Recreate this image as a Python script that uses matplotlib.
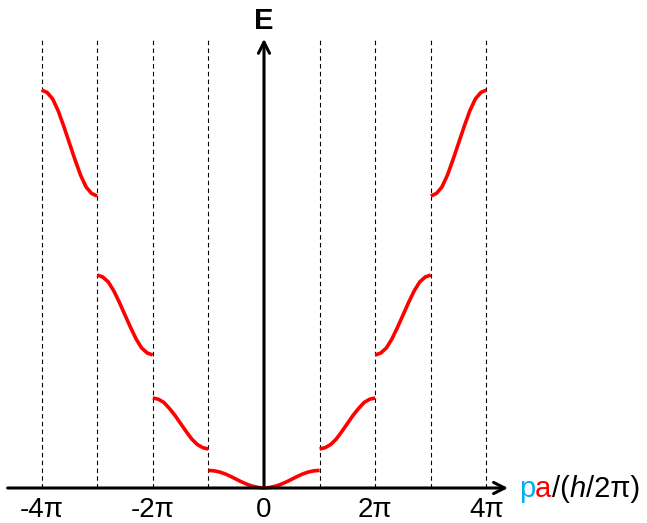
import matplotlib
matplotlib.use('Agg')
import matplotlib.pyplot as plt

plt.rcParams['font.family'] = ['Liberation Sans', 'DejaVu Sans']

# k in units of pi, E in arbitrary units
band_k = [[0.0, 0.1, 0.2, 0.3, 0.4, 0.5, 0.6, 0.7, 0.8, 0.9, 1.0],
          [1.0, 1.1, 1.2, 1.3, 1.4, 1.5, 1.6, 1.7, 1.8, 1.9, 2.0],
          [2.0, 2.1, 2.2, 2.3, 2.4, 2.5, 2.6, 2.7, 2.8, 2.9, 3.0],
          [3.0, 3.1, 3.2, 3.3, 3.4, 3.5, 3.6, 3.7, 3.8, 3.9, 4.0]]
band_E = [[0, 0.5, 1.7, 3.6, 6.0, 8.8, 11.6, 14.1, 16.0, 17.2, 17.6],
          [39, 40.3, 43.5, 49, 56.5, 64.5, 72.5, 79.5, 85.5, 88.8, 90],
          [133, 135, 140, 149, 160.5, 173, 185.5, 197, 206, 211, 213],
          [292, 294.5, 301, 313, 328.5, 345, 361.5, 377, 389, 395.5, 398]]
zone_edges = [-4, -3, -2, -1, 1, 2, 3, 4]
tick_pos = [-4, -2, 0, 2, 4]
tick_labels = ['-4π', '-2π', '0', '2π', '4π']

fig = plt.figure(figsize=(6.47, 5.23), dpi=100)
ax = fig.add_axes([0, 0, 1, 1])
ax.set_xlim(-4.748, 6.888)
ax.set_ylim(-35, 488)
ax.axis('off')

# zone boundaries
for xe in zone_edges:
    ax.plot([xe, xe], [0, 450], color='black', lw=0.8, ls=(0, (4, 3)))

# axes with arrows
ax.annotate('', xy=(4.44, 0), xytext=(-4.66, 0),
            arrowprops=dict(arrowstyle='->', lw=2.2, color='black', mutation_scale=20))
ax.annotate('', xy=(0, 452), xytext=(0, 0),
            arrowprops=dict(arrowstyle='->', lw=2.2, color='black', mutation_scale=20))

# bands, mirrored to negative k
for ks, es in zip(band_k, band_E):
    ax.plot(ks, es, color='red', lw=2.6, solid_capstyle='butt')
    ax.plot([-k for k in ks], es, color='red', lw=2.6, solid_capstyle='butt')

for xp, lab in zip(tick_pos, tick_labels):
    ax.text(xp, -22, lab, ha='center', va='center', fontsize=20)

ax.text(0, 467, 'E', ha='center', va='center', fontsize=21, fontweight='bold')

# x-axis label built from coloured pieces
fig.canvas.draw()
renderer = fig.canvas.get_renderer()
pieces = [('p', '#00B0F0', 'normal'), ('a', 'red', 'normal'), ('/(', 'black', 'normal'),
          ('h', 'black', 'italic'), ('/2π)', 'black', 'normal')]
x_px = 519
y_px = 523 - 489
for s, c, st in pieces:
    t = fig.text(x_px / 647, y_px / 523, s, color=c, style=st, fontsize=21,
                 ha='left', va='center')
    bb = t.get_window_extent(renderer)
    x_px = bb.x1

fig.savefig('out.png', dpi=100)
